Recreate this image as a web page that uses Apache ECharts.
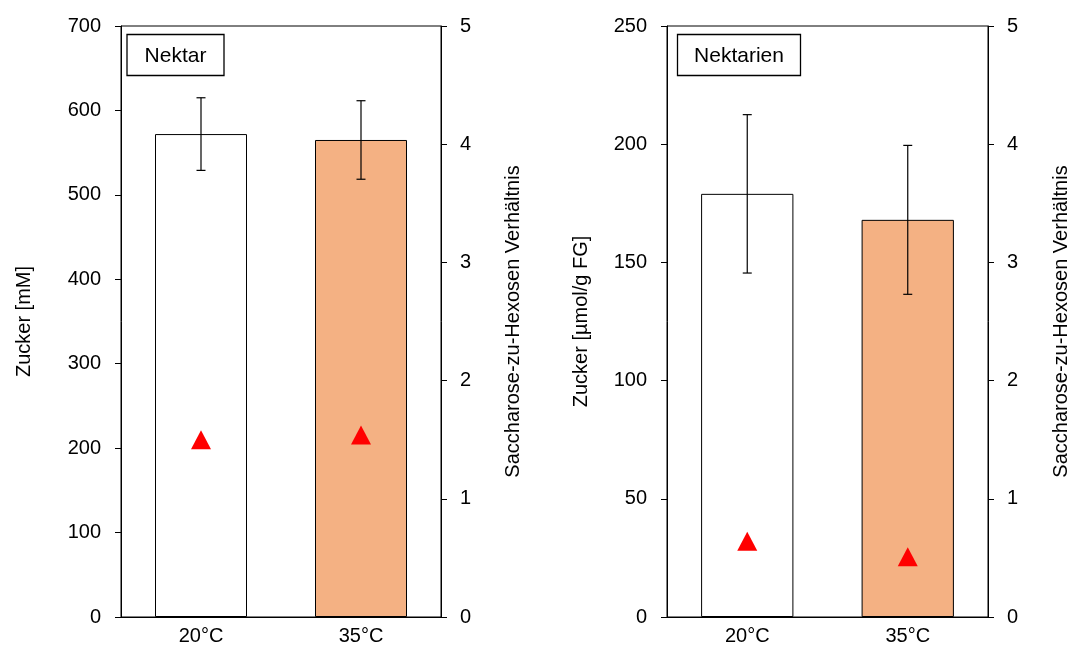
<!DOCTYPE html>
<html>
<head>
<meta charset="utf-8">
<script src="https://cdn.jsdelivr.net/npm/echarts@6/dist/echarts.min.js"></script>
<style>
html,body{margin:0;padding:0;background:#fff;}
#chart{width:1077px;height:651px;}
</style>
</head>
<body>
<div id="chart"></div>
<script>
const categories = ['20°C', '35°C'];
const barColors = ['#FFFFFF', '#F4B183'];

const nektarSugar = [572, 565];
const nektarSugarErr = [43, 46.5];
const nektarRatio = [1.50, 1.54];

const nektarienSugar = [179, 168];
const nektarienSugarErr = [33.5, 31.5];
const nektarienRatio = [0.64, 0.51];

const leftTicks = { nektar: { max: 700, interval: 100 }, nektarien: { max: 250, interval: 50 } };
const ratioAxis = { max: 5, interval: 1 };

const FONT = 'Liberation Sans, Arial, sans-serif';
const chart = echarts.init(document.getElementById('chart'), null, { renderer: 'canvas' });

function xAxisFor(gridIndex) {
  return {
    type: 'category', gridIndex: gridIndex, data: categories,
    axisLine: { lineStyle: { color: '#000', width: 1 } },
    axisTick: { show: false },
    axisLabel: { color: '#000', fontSize: 20, fontFamily: FONT, margin: 9 },
    splitLine: { show: false }
  };
}
function leftY(gridIndex, cfg, name, gap) {
  return {
    type: 'value', gridIndex: gridIndex, position: 'left', min: 0, max: cfg.max, interval: cfg.interval,
    name: name, nameLocation: 'middle', nameGap: gap, nameRotate: 90,
    nameTextStyle: { color: '#000', fontSize: 20, fontFamily: FONT },
    axisLine: { show: true, lineStyle: { color: '#000', width: 1 } },
    axisTick: { show: true, inside: false, length: 6, lineStyle: { color: '#000' } },
    axisLabel: { color: '#000', fontSize: 20, fontFamily: FONT, margin: 20 },
    splitLine: { show: false }
  };
}
function rightY(gridIndex, name, gap) {
  return {
    type: 'value', gridIndex: gridIndex, position: 'right', min: 0, max: ratioAxis.max, interval: ratioAxis.interval,
    name: name, nameLocation: 'middle', nameGap: gap, nameRotate: 90,
    nameTextStyle: { color: '#000', fontSize: 20, fontFamily: FONT },
    axisLine: { show: true, lineStyle: { color: '#000', width: 1 } },
    axisTick: { show: true, inside: false, length: 6, lineStyle: { color: '#000' } },
    axisLabel: { color: '#000', fontSize: 20, fontFamily: FONT, margin: 19 },
    splitLine: { show: false }
  };
}
function barSeries(idx, values) {
  return {
    type: 'bar', xAxisIndex: idx, yAxisIndex: idx * 2, barWidth: '57.5%',
    data: values.map((v, i) => ({ value: v, itemStyle: { color: barColors[i], borderColor: '#000', borderWidth: 1 } })),
    z: 2, silent: true
  };
}
function errSeries(idx, values, errs) {
  return {
    type: 'custom', xAxisIndex: idx, yAxisIndex: idx * 2, z: 5, silent: true,
    data: values.map((v, i) => [i, v, errs[i]]),
    encode: { x: 0, y: 1 },
    renderItem: function (params, api) {
      const i = api.value(0), v = api.value(1), e = api.value(2);
      const top = api.coord([i, v + e]);
      const bot = api.coord([i, v - e]);
      const hw = 4.5;
      const st = { stroke: '#000', lineWidth: 1.2 };
      return {
        type: 'group', children: [
          { type: 'line', shape: { x1: top[0], y1: top[1], x2: bot[0], y2: bot[1] }, style: st },
          { type: 'line', shape: { x1: top[0] - hw, y1: top[1], x2: top[0] + hw, y2: top[1] }, style: st },
          { type: 'line', shape: { x1: bot[0] - hw, y1: bot[1], x2: bot[0] + hw, y2: bot[1] }, style: st }
        ]
      };
    }
  };
}
function ratioSeries(idx, values) {
  return {
    type: 'scatter', xAxisIndex: idx, yAxisIndex: idx * 2 + 1, symbol: 'triangle', symbolSize: [20, 19],
    itemStyle: { color: '#FF0000', opacity: 1 }, data: values, z: 6, silent: true
  };
}
function labelBox(x, y, w, h, text) {
  return {
    type: 'group', children: [
      { type: 'rect', shape: { x: x, y: y, width: w, height: h }, style: { fill: '#fff', stroke: '#000', lineWidth: 1.3 }, z: 10 },
      { type: 'text', x: x + w / 2, y: y + h / 2 + 1, style: { text: text, fill: '#000', font: '21px ' + FONT, align: 'center', verticalAlign: 'middle' }, z: 11 }
    ]
  };
}

chart.setOption({
  animation: false,
  backgroundColor: '#fff',
  grid: [
    { left: 121, top: 26, width: 320, height: 591, show: true, borderColor: '#000', borderWidth: 1, backgroundColor: 'transparent' },
    { left: 667, top: 26, width: 321, height: 591, show: true, borderColor: '#000', borderWidth: 1, backgroundColor: 'transparent' }
  ],
  xAxis: [xAxisFor(0), xAxisFor(1)],
  yAxis: [
    leftY(0, leftTicks.nektar, 'Zucker [mM]', 87),
    rightY(0, 'Saccharose-zu-Hexosen Verhältnis', 62),
    leftY(1, leftTicks.nektarien, 'Zucker [µmol/g FG]', 76),
    rightY(1, 'Saccharose-zu-Hexosen Verhältnis', 63)
  ],
  series: [
    barSeries(0, nektarSugar), errSeries(0, nektarSugar, nektarSugarErr), ratioSeries(0, nektarRatio),
    barSeries(1, nektarienSugar), errSeries(1, nektarienSugar, nektarienSugarErr), ratioSeries(1, nektarienRatio)
  ],
  graphic: [
    labelBox(127, 34.5, 97, 41, 'Nektar'),
    labelBox(677.5, 34.5, 123, 41, 'Nektarien')
  ]
});
</script>
</body>
</html>
